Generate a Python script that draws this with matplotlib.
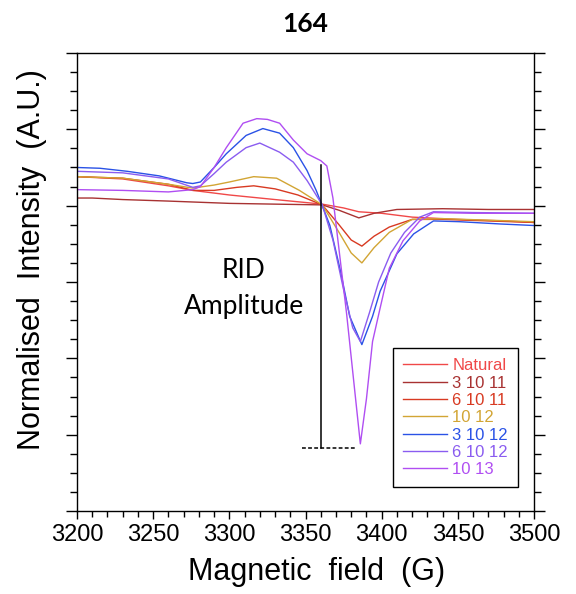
import matplotlib
matplotlib.use("Agg")
import matplotlib.pyplot as plt
from matplotlib.ticker import MultipleLocator

# ---- data ----
labels = ["Natural", "3 10 11", "6 10 11", "10 12", "3 10 12", "6 10 12", "10 13"]
colors = ["#f04848", "#a83232", "#d83a22", "#d2a534", "#2a52e6", "#8a5cf0", "#b04ef2"]

x_natural = [3200, 3230, 3260, 3276, 3300, 3330, 3361, 3375, 3385, 3400, 3420, 3450, 3480, 3500]
y_natural = [0.38, 0.35, 0.26, 0.20, 0.14, 0.08, 0.02, -0.03, -0.08, -0.10, -0.15, -0.18, -0.20, -0.22]

x_3_10_11 = [3200, 3210, 3230, 3260, 3300, 3330, 3361, 3372, 3385, 3395, 3410, 3440, 3470, 3500]
y_3_10_11 = [0.10, 0.10, 0.08, 0.06, 0.03, 0.02, 0.01, -0.06, -0.16, -0.10, -0.05, -0.04, -0.05, -0.05]

x_6_10_11 = [3200, 3230, 3260, 3276, 3290, 3305, 3316, 3330, 3345, 3361, 3372, 3380, 3387,
             3395, 3405, 3420, 3440, 3470, 3500]
y_6_10_11 = [0.38, 0.36, 0.28, 0.20, 0.20, 0.24, 0.26, 0.22, 0.14, 0.01, -0.25, -0.45, -0.53,
             -0.40, -0.28, -0.18, -0.18, -0.20, -0.22]

x_10_12 = [3200, 3230, 3260, 3276, 3290, 3300, 3316, 3331, 3346, 3361, 3372, 3380, 3387,
           3395, 3405, 3420, 3440, 3470, 3500]
y_10_12 = [0.38, 0.36, 0.28, 0.23, 0.27, 0.31, 0.38, 0.36, 0.20, 0.01, -0.35, -0.62, -0.75,
           -0.55, -0.35, -0.18, -0.17, -0.19, -0.21]

x_3_10_12 = [3200, 3215, 3233, 3254, 3272, 3276, 3281, 3290, 3298, 3311, 3322, 3333, 3342,
             3351, 3357, 3361, 3366, 3373, 3379, 3387, 3394, 3399, 3410, 3421, 3434, 3451,
             3478, 3500]
y_3_10_12 = [0.50, 0.49, 0.45, 0.39, 0.30, 0.29, 0.31, 0.50, 0.68, 0.92, 1.01, 0.95, 0.76,
             0.46, 0.20, 0.00, -0.26, -0.86, -1.45, -1.82, -1.45, -1.12, -0.63, -0.37, -0.20,
             -0.21, -0.24, -0.26]

x_6_10_12 = [3200, 3230, 3260, 3276, 3281, 3290, 3298, 3311, 3320, 3333, 3342, 3351, 3361,
             3368, 3375, 3381, 3386, 3392, 3398, 3406, 3415, 3425, 3434, 3460, 3500]
y_6_10_12 = [0.45, 0.43, 0.35, 0.24, 0.26, 0.42, 0.57, 0.76, 0.82, 0.70, 0.57, 0.33, 0.01,
             -0.45, -1.10, -1.60, -1.78, -1.40, -1.00, -0.62, -0.35, -0.15, -0.08, -0.09, -0.10]

x_10_13 = [3200, 3230, 3260, 3276, 3281, 3290, 3298, 3309, 3318, 3325, 3333, 3342, 3351,
           3360, 3364, 3368, 3377, 3386, 3390, 3394, 3399, 3405, 3414, 3425, 3434, 3460, 3500]
y_10_13 = [0.21, 0.20, 0.18, 0.21, 0.25, 0.50, 0.76, 1.08, 1.14, 1.13, 1.08, 0.86, 0.68,
           0.59, 0.52, 0.10, -1.42, -3.12, -2.53, -1.78, -1.34, -0.82, -0.46, -0.20, -0.09,
           -0.10, -0.10]

series_x = [x_natural, x_3_10_11, x_6_10_11, x_10_12, x_3_10_12, x_6_10_12, x_10_13]
series_y = [y_natural, y_3_10_11, y_6_10_11, y_10_12, y_3_10_12, y_6_10_12, y_10_13]

rid_x = 3360
rid_top = 0.53
rid_bottom = -3.18
dash_x = [3348, 3384]

fig = plt.figure(figsize=(5.76, 5.94), dpi=100)
ax = fig.add_axes([0.1337, 0.1397, 0.7934, 0.7711])

for xs, ys, c, lab in zip(series_x, series_y, colors, labels):
    ax.plot(xs, ys, color=c, lw=1.0, label=lab)

ax.plot([rid_x, rid_x], [rid_top, rid_bottom], color="black", lw=1.1)
ax.plot(dash_x, [rid_bottom, rid_bottom], color="black", lw=1.1, ls=(0, (2.5, 1.5)))

ax.text(3309.5, -0.95, "RID", ha="center", va="baseline", fontsize=19, family="Lato")
ax.text(3309.5, -1.42, "Amplitude", ha="center", va="baseline", fontsize=19, family="Lato")

ax.set_xlim(3200, 3500)
ax.set_ylim(-4, 2)
ax.xaxis.set_major_locator(MultipleLocator(50))
ax.xaxis.set_minor_locator(MultipleLocator(10))
ax.yaxis.set_major_locator(MultipleLocator(1))
ax.yaxis.set_minor_locator(MultipleLocator(0.25))
ax.tick_params(axis="both", which="both", direction="out", top=False, right=True,
               labelleft=False, labelright=False)
ax.tick_params(axis="y", which="major", length=8, width=1)
ax.tick_params(axis="y", which="minor", length=5, width=1)
ax.tick_params(axis="x", which="major", length=6, width=1, labelsize=17, pad=3)
ax.tick_params(axis="x", which="minor", length=4, width=1)
for lab in ax.get_xticklabels():
    lab.set_family("Liberation Sans")
for sp in ax.spines.values():
    sp.set_linewidth(1)

ax.set_xlabel("Magnetic  field  (G)", fontsize=22, family="Liberation Sans")
ax.xaxis.set_label_coords(0.525, -0.10)
ax.set_ylabel("Normalised  Intensity  (A.U.)", fontsize=22, family="Liberation Sans")
ax.yaxis.set_label_coords(-0.065, 0.55)
ax.set_title("164", fontsize=19, fontweight="bold", family="Lato", pad=15)

leg = ax.legend(loc="lower right", bbox_to_anchor=(0.965, 0.052), fontsize=12,
                labelcolor="linecolor", fancybox=False, edgecolor="black",
                handlelength=2.6, handletextpad=0.35, labelspacing=0.14,
                borderpad=0.6, borderaxespad=0, framealpha=1)
leg.get_frame().set_linewidth(1)
for t in leg.get_texts():
    t.set_family("Liberation Sans")

fig.savefig("out.png", dpi=100)
